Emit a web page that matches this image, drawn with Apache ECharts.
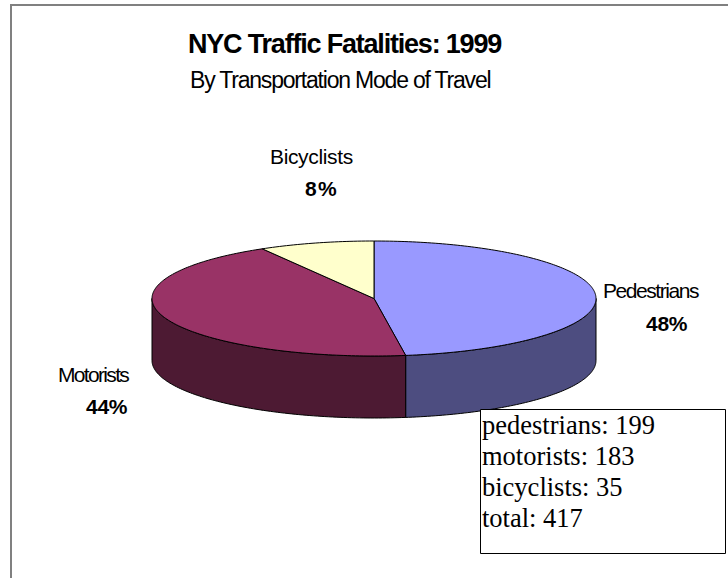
<!DOCTYPE html>
<html>
<head>
<meta charset="utf-8">
<style>html,body{margin:0;padding:0;background:#fff}#main{width:728px;height:578px}</style>
<script src="https://cdn.jsdelivr.net/npm/echarts@6/dist/echarts.min.js"></script>
</head>
<body>
<div id="main"></div>
<script>
var names = ['Pedestrians', 'Motorists', 'Bicyclists'];
var values = [199, 183, 35];
var noteNames = ['pedestrians', 'motorists', 'bicyclists', 'total'];
var noteValues = [199, 183, 35, 417];
var titleText = 'NYC Traffic Fatalities: 1999';
var subtitleText = 'By Transportation Mode of Travel';

var topColors = ['#9999ff', '#993366', '#ffffcc'];
var sideColors = ['#4d4d80', '#4d1a33', '#808066'];
// 标签位置和字距
var labelBoxes = [
    { x: 603, y: 290.5, ls: -1.45, px: 646, py: 323, pls: -0.3 },
    { x: 58, y: 374, ls: -1.67, px: 86, py: 406.5, pls: -0.3 },
    { x: 270, y: 156, ls: -0.35, px: 305, py: 188, pls: 1.2 }
];

var cx = 374, cy = 298.5, rx = 222, ry = 57.5, depth = 62;
var total = values.reduce(function (a, b) { return a + b; }, 0);
var spacing = {};

function pointAt(deg, dy) {
    var a = deg * Math.PI / 180;
    return [cx + rx * Math.sin(a), cy - ry * Math.cos(a) + (dy || 0)];
}

// 顶面、侧面按角度取点
function arcPoints(from, to, dy) {
    var pts = [];
    for (var d = from; d < to; d += 1) pts.push(pointAt(d, dy));
    pts.push(pointAt(to, dy));
    return pts;
}

function renderSlice(params, api) {
    var i = params.dataIndex;
    var start = 0;
    for (var k = 0; k < i; k++) start += values[k] / total * 360;
    var end = start + values[i] / total * 360;
    var children = [];

    // 只有前半圈（90~270度）看得到侧面
    var sFrom = Math.max(start, 90), sTo = Math.min(end, 270);
    if (sFrom < sTo) {
        var sidePts = arcPoints(sFrom, sTo, 0).concat(arcPoints(sFrom, sTo, depth).reverse());
        children.push({
            type: 'polygon',
            shape: { points: sidePts },
            style: { fill: sideColors[i], stroke: '#000', lineWidth: 1 }
        });
    }
    children.push({
        type: 'polygon',
        shape: { points: [[cx, cy]].concat(arcPoints(start, end, 0)) },
        style: { fill: topColors[i], stroke: '#000', lineWidth: 1 }
    });
    return { type: 'group', children: children };
}

function textEl(text, x, y, font, ls) {
    if (ls) spacing[text] = ls;
    return {
        type: 'text', x: x, y: y, silent: true,
        style: { text: text, font: font, fill: '#000', textAlign: 'left', textVerticalAlign: 'middle' }
    };
}

var graphics = [
    { type: 'polyline', shape: { points: [[11, 578], [11, 5], [728, 5]] }, style: { stroke: '#808080', fill: null, lineWidth: 2 }, silent: true },
    textEl(titleText, 188, 43.5, 'bold 27px "Liberation Sans"', -1.2),
    textEl(subtitleText, 190, 79.5, '23px "Liberation Sans"', -1.2)
];
names.forEach(function (n, i) {
    var b = labelBoxes[i];
    graphics.push(textEl(n, b.x, b.y, '21px "Liberation Sans"', b.ls));
    graphics.push(textEl(Math.round(values[i] / total * 100) + '%', b.px, b.py, 'bold 21px "Liberation Sans"', b.pls));
});
graphics.push({ type: 'rect', shape: { x: 480.5, y: 409.5, width: 245, height: 144 }, style: { fill: '#fff', stroke: '#000', lineWidth: 1 }, silent: true, z: 20 });
noteNames.forEach(function (n, i) {
    var t = textEl(n + ': ' + noteValues[i], 482, 425 + i * 31, '26.5px "Liberation Serif"');
    t.z = 21;
    graphics.push(t);
});

var myChart = echarts.init(document.getElementById('main'), null, { renderer: 'svg' });
myChart.setOption({
    backgroundColor: '#fff',
    animation: false,
    graphic: { elements: graphics },
    series: [{
        type: 'custom',
        coordinateSystem: 'none',
        renderItem: renderSlice,
        data: values,
        silent: true
    }]
});

// 原图字距很紧，ECharts没有字距选项，这里直接改svg文字
document.querySelectorAll('#main svg text').forEach(function (el) {
    if (spacing[el.textContent]) el.style.letterSpacing = spacing[el.textContent] + 'px';
});
</script>
</body>
</html>
